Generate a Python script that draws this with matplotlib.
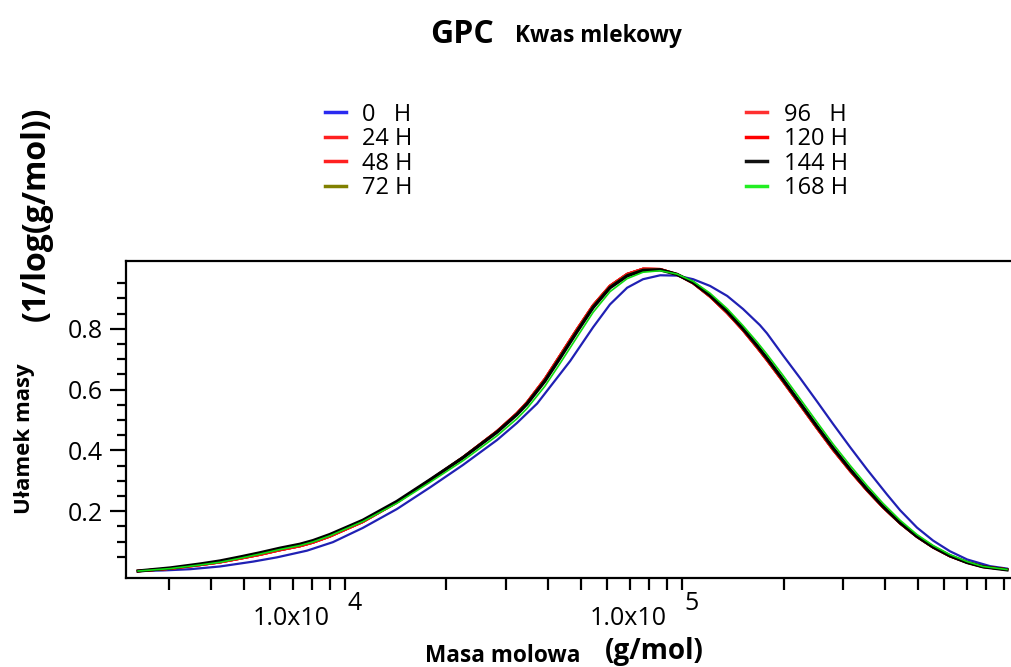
import numpy as np
import matplotlib.pyplot as plt
from matplotlib.ticker import FixedLocator, NullFormatter

plt.rcParams['font.family'] = ['Open Sans', 'DejaVu Sans']

# log10 of molar mass, common grid for the curves
logm = [3.386, 3.481, 3.570, 3.629, 3.688, 3.748, 3.807, 3.866, 3.905, 3.955,
        4.053, 4.154, 4.252, 4.350, 4.451, 4.510, 4.540, 4.593, 4.638, 4.688,
        4.736, 4.786, 4.837, 4.884, 4.935, 4.985, 5.033, 5.083, 5.134, 5.181,
        5.223, 5.252, 5.300, 5.350, 5.401, 5.448, 5.499, 5.549, 5.596, 5.647,
        5.697, 5.745, 5.795, 5.846, 5.893, 5.964]

w_144h = [0.003, 0.013, 0.026, 0.036, 0.049, 0.063, 0.078, 0.091, 0.103, 0.123,
          0.170, 0.232, 0.303, 0.376, 0.460, 0.518, 0.553, 0.628, 0.704, 0.790,
          0.870, 0.935, 0.974, 0.992, 0.994, 0.979, 0.952, 0.910, 0.857, 0.800,
          0.744, 0.703, 0.632, 0.556, 0.478, 0.408, 0.337, 0.272, 0.216, 0.162,
          0.117, 0.082, 0.053, 0.031, 0.017, 0.007]

# 24, 48, 96 and 120 H lie on top of each other
w_red = [0.003, 0.011, 0.023, 0.032, 0.044, 0.057, 0.072, 0.085, 0.097, 0.117,
         0.165, 0.229, 0.302, 0.377, 0.463, 0.522, 0.558, 0.635, 0.712, 0.798,
         0.877, 0.941, 0.980, 0.997, 0.996, 0.979, 0.950, 0.906, 0.852, 0.795,
         0.738, 0.697, 0.626, 0.550, 0.472, 0.402, 0.332, 0.268, 0.213, 0.160,
         0.116, 0.081, 0.052, 0.031, 0.017, 0.008]

w_72h = [0.003, 0.012, 0.024, 0.034, 0.047, 0.061, 0.076, 0.089, 0.101, 0.121,
         0.168, 0.231, 0.303, 0.377, 0.461, 0.520, 0.556, 0.631, 0.708, 0.794,
         0.874, 0.938, 0.977, 0.994, 0.995, 0.979, 0.951, 0.908, 0.855, 0.798,
         0.741, 0.700, 0.629, 0.553, 0.475, 0.405, 0.335, 0.270, 0.215, 0.161,
         0.117, 0.081, 0.053, 0.031, 0.017, 0.007]

w_168h = [0.003, 0.011, 0.023, 0.032, 0.045, 0.059, 0.074, 0.087, 0.099, 0.119,
          0.166, 0.226, 0.295, 0.366, 0.448, 0.504, 0.538, 0.611, 0.686, 0.772,
          0.854, 0.922, 0.965, 0.986, 0.991, 0.980, 0.956, 0.917, 0.866, 0.810,
          0.756, 0.716, 0.646, 0.570, 0.492, 0.421, 0.350, 0.284, 0.226, 0.170,
          0.123, 0.087, 0.057, 0.034, 0.018, 0.008]

logm_0h = [3.386, 3.460, 3.540, 3.629, 3.727, 3.798, 3.887, 3.964, 4.053, 4.154,
           4.252, 4.350, 4.451, 4.510, 4.570, 4.668, 4.736, 4.786, 4.837, 4.884,
           4.935, 4.985, 5.033, 5.083, 5.134, 5.181, 5.231, 5.252, 5.300, 5.350,
           5.401, 5.448, 5.499, 5.549, 5.608, 5.647, 5.697, 5.745, 5.795, 5.846,
           5.914, 5.964]
w_0h = [0.003, 0.005, 0.009, 0.018, 0.034, 0.048, 0.070, 0.098, 0.145, 0.207,
        0.278, 0.352, 0.434, 0.490, 0.554, 0.694, 0.805, 0.880, 0.935, 0.963,
        0.976, 0.975, 0.963, 0.941, 0.908, 0.865, 0.812, 0.785, 0.712, 0.638,
        0.560, 0.487, 0.410, 0.337, 0.255, 0.203, 0.146, 0.103, 0.068, 0.041,
        0.019, 0.011]

labels = ['0   H', '24 H', '48 H', '72 H', '96   H', '120 H', '144 H', '168 H']
legend_colors = ['#2a2af0', '#ff2020', '#ff2020', '#808000', '#ff3030', '#ff0000', '#111111', '#22ee22']

y_major = [0.2, 0.4, 0.6, 0.8]
y_minor = [0.05, 0.1, 0.15, 0.25, 0.3, 0.35, 0.45, 0.5, 0.55, 0.65, 0.7, 0.75, 0.85, 0.9, 0.95]
x_major = [1e4, 1e5]
x_exp = ['4', '5']

m = 10 ** np.array(logm)
m0 = 10 ** np.array(logm_0h)

fig = plt.figure(figsize=(10.11, 6.67), dpi=100)
ax = fig.add_axes([0.1246, 0.1334, 0.8754, 0.4753])

ax.plot(m0, w_0h, color='#2020b4', lw=1.6, zorder=2)
for c in [1, 2, 4, 5]:
    ax.plot(m, w_red, color='#ee1111', lw=1.8, zorder=3)
ax.plot(m, w_72h, color='#808000', lw=1.4, zorder=3)
ax.plot(m, w_144h, color='black', lw=2.4, zorder=4)
ax.plot(m, w_168h, color='#11dd11', lw=1.2, zorder=5)

ax.set_xscale('log')
ax.set_xlim(10 ** 3.350, 10 ** 5.976)
ax.set_ylim(-0.02, 1.023)

ax.spines['right'].set_visible(False)
for s in ['left', 'top', 'bottom']:
    ax.spines[s].set_linewidth(1.6)

ax.yaxis.set_major_locator(FixedLocator(y_major))
ax.yaxis.set_minor_locator(FixedLocator(y_minor))
ax.set_yticklabels(['0.2', '0.4', '0.6', '0.8'])
ax.tick_params(axis='y', which='major', length=11.5, width=1.6, labelsize=18, pad=5)
ax.tick_params(axis='y', which='minor', length=6.5, width=1.6)

ax.xaxis.set_major_locator(FixedLocator(x_major))
ax.xaxis.set_major_formatter(NullFormatter())
ax.xaxis.set_minor_formatter(NullFormatter())
ax.tick_params(axis='x', which='both', length=8.5, width=1.6)

for xv, e in zip(x_major, x_exp):
    ax.annotate('1.0x10', (xv, 0), xycoords=('data', 'axes fraction'),
                xytext=(-11, -29), textcoords='offset points',
                ha='right', va='center', fontsize=18)
    ax.annotate(e, (xv, 0), xycoords=('data', 'axes fraction'),
                xytext=(1.5, -18), textcoords='offset points',
                ha='left', va='center', fontsize=18)

# legend handles
handles = [plt.Line2D([], [], color=c, lw=2.5) for c in legend_colors]
leg = fig.legend(handles, labels, loc='upper left', bbox_to_anchor=(0.300, 0.878),
                 ncol=2, frameon=False, fontsize=17, handlelength=0.9,
                 handletextpad=0.7, labelspacing=0.02, columnspacing=14.1)

fig.text(0.4253, 0.935, 'GPC', fontsize=23, fontweight='bold', ha='left', va='baseline')
fig.text(0.509, 0.937, 'Kwas mlekowy', fontsize=16.3, fontweight='bold', ha='left', va='baseline')

fig.text(0.024, 0.343, 'Ułamek masy', fontsize=16, fontweight='bold', rotation=90,
         ha='center', va='center')
fig.text(0.036, 0.68, '(1/log(g/mol))', fontsize=23, fontweight='bold', rotation=90,
         ha='center', va='center')
fig.text(0.4204, 0.008, 'Masa molowa', fontsize=16.3, fontweight='bold', ha='left', va='baseline')
fig.text(0.598, 0.012, '(g/mol)', fontsize=20, fontweight='bold', ha='left', va='baseline')

fig.savefig('out.png', dpi=100)
